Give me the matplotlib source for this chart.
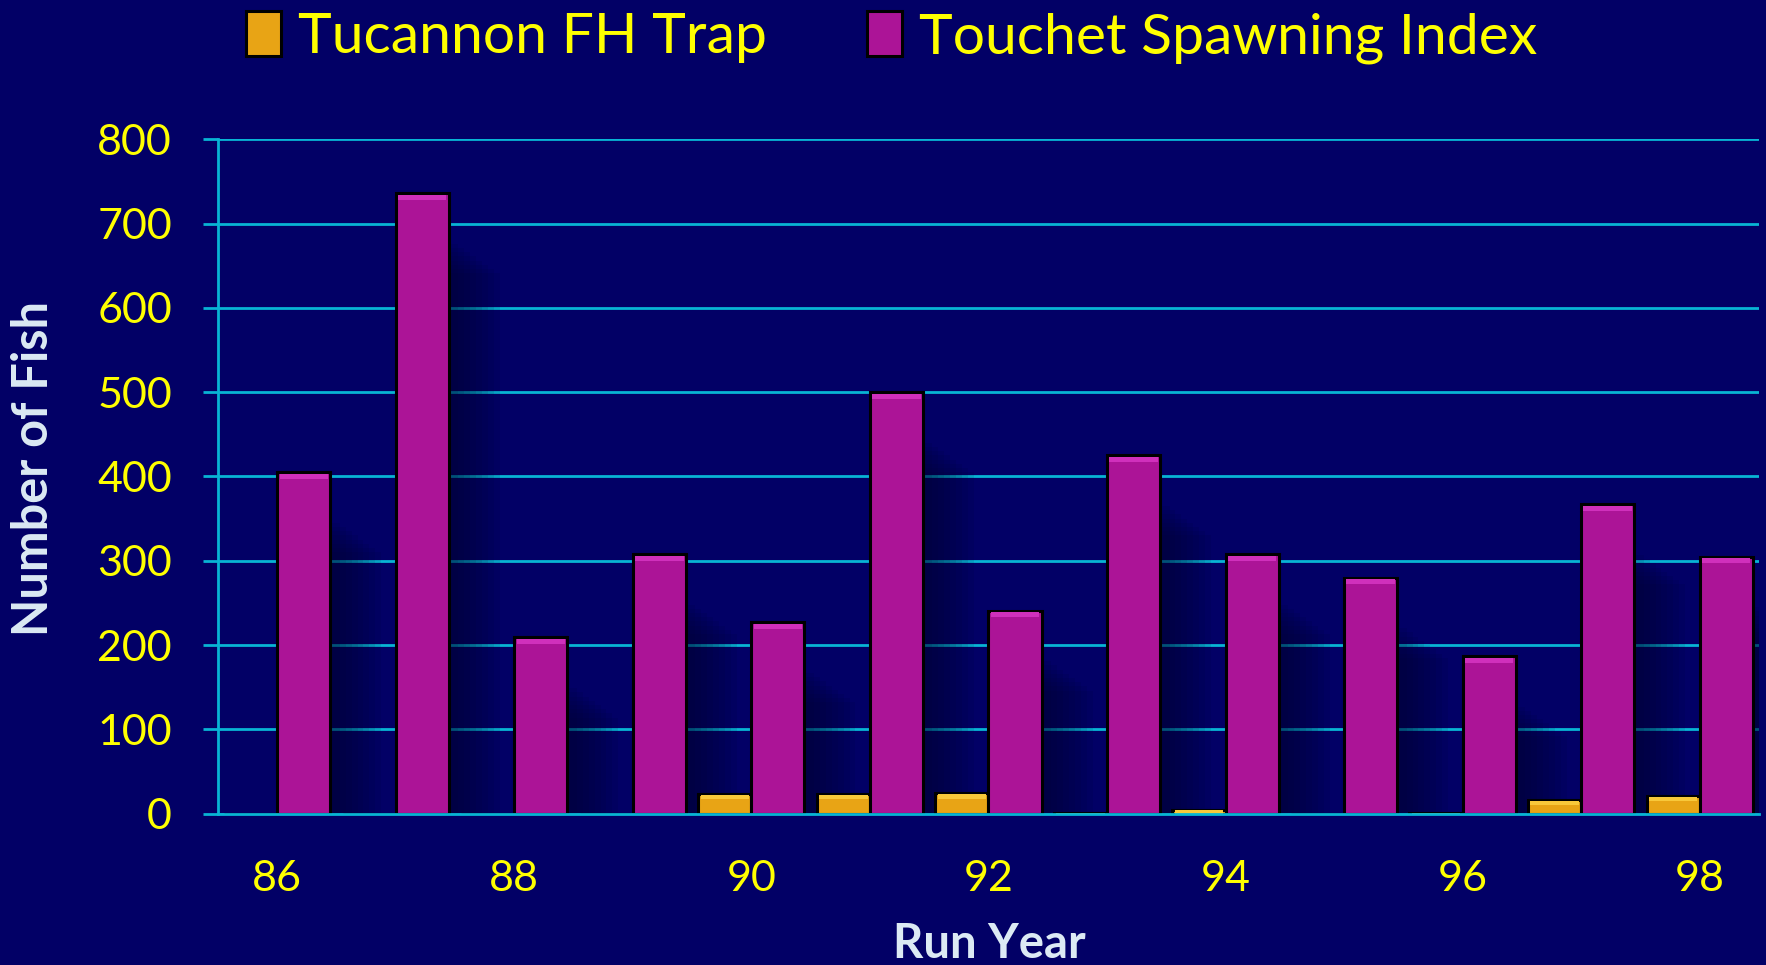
import numpy as np
import matplotlib
matplotlib.use("Agg")
import matplotlib.pyplot as plt

# ---------------- data ----------------
years = [86, 87, 88, 89, 90, 91, 92, 93, 94, 95, 96, 97, 98]
tucannon = [0, 0, 0, 0, 23, 23, 24, 1, 4, 0, 1, 16, 21]
touchet = [405, 736, 209, 308, 227, 500, 241, 425, 308, 280, 187, 367, 305]
tick_years = [86, 88, 90, 92, 94, 96, 98]
series_names = ["Tucannon FH Trap", "Touchet Spawning Index"]

# ---------------- style ----------------
BG = "#020066"
GRID = "#08B4D4"
ORANGE = "#E8A415"
MAGENTA = "#AC1497"
YELLOW = "#FFFF00"
LABEL = "#DCEAF4"
FONT = "Lato"

fig = plt.figure(figsize=(17.66, 9.65), dpi=100, facecolor=BG)
ax = fig.add_axes([0.1234, 0.1568, 0.8726, 0.6989])
ax.set_facecolor(BG)

x = np.array(years, dtype=float)
tv = np.array(tucannon, dtype=float)
sv = np.array(touchet, dtype=float)
w = 0.448

# soft shadows to the right of bars
for vals, left in ((tv, x - w), (sv, x)):
    for k in range(8):
        ext = 0.05 + 0.05 * k
        ax.bar(left + 0.03, np.clip(vals - 60 - 5 * k, 0, None), width=w + ext,
               align="edge", color="#00002a", alpha=0.09, linewidth=0, zorder=2)

bars1 = ax.bar(x - w, tv, width=w, align="edge", color=ORANGE,
               edgecolor="black", linewidth=2.2, zorder=3, label=series_names[0])
bars2 = ax.bar(x, sv, width=w, align="edge", color=MAGENTA,
               edgecolor="black", linewidth=2.2, zorder=3, label=series_names[1])

# subtle bevel highlights at top of bars
ax.bar(x - w + 0.02, np.minimum(tv, 5), bottom=np.clip(tv - 6, 0, None), width=w - 0.04,
       align="edge", color="#F8C83A", linewidth=0, zorder=4)
ax.bar(x + 0.02, np.minimum(sv, 6), bottom=sv - 8, width=w - 0.04,
       align="edge", color="#D030BC", linewidth=0, zorder=4)

ax.set_xlim(85.5, 98.5)
ax.set_ylim(0, 800)
ax.set_yticks(np.arange(0, 801, 100))
ax.set_xticks(tick_years)
ax.set_xticklabels([str(t) for t in tick_years])

ax.yaxis.grid(True, color=GRID, linewidth=2.0, zorder=1)
ax.set_axisbelow(True)
for s in ("top", "right"):
    ax.spines[s].set_visible(False)
for s in ("left", "bottom"):
    ax.spines[s].set_color(GRID)
    ax.spines[s].set_linewidth(2.0)
ax.spines["bottom"].set_zorder(5)

ax.tick_params(axis="y", colors=GRID, length=11, width=2, pad=22,
               labelcolor=YELLOW, labelsize=31)
ax.tick_params(axis="x", length=0, pad=33, labelcolor=YELLOW, labelsize=31)
for lab in ax.get_xticklabels() + ax.get_yticklabels():
    lab.set_fontfamily(FONT)

fig.text(989 / 1766, 1 - 944 / 965, "Run Year", ha="center", va="center",
         fontsize=34, fontweight="bold", color=LABEL, family=FONT)
fig.text(34 / 1766, 1 - 469 / 965, "Number of Fish", ha="center", va="center",
         rotation=90, fontsize=35, fontweight="bold", color=LABEL, family=FONT)

leg = fig.legend(handles=[bars1, bars2], loc="upper center",
                 bbox_to_anchor=(0.505, 1.042), ncol=2, frameon=False,
                 prop={"family": FONT, "size": 41}, handlelength=0.62,
                 handleheight=0.85, handletextpad=0.3, columnspacing=1.75)
for t in leg.get_texts():
    t.set_color(YELLOW)

fig.savefig("out.png", dpi=100, facecolor=BG)
